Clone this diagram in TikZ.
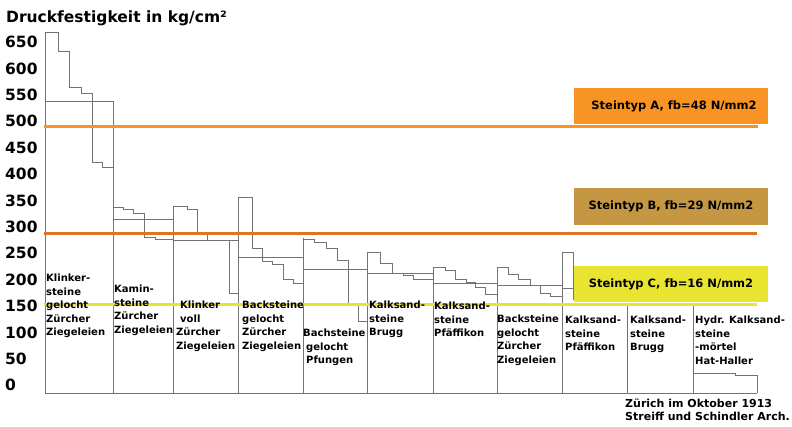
\documentclass[tikz,border=0pt]{standalone}
\usepackage{fontspec}
\setmainfont{DejaVu Sans}
\usetikzlibrary{positioning}

\definecolor{typA}{RGB}{247,148,36}
\definecolor{typB}{RGB}{222,116,38}
\definecolor{boxB}{RGB}{198,151,66}
\definecolor{typC}{RGB}{232,228,48}

\begin{document}
\begin{tikzpicture}[
  x=1pt, y=-1pt,
  font=\bfseries,
  grey/.style={draw=black!55, line width=0.8pt},
  ylab/.style={anchor=west, inner sep=0pt, font=\bfseries\fontsize{15.5}{16}\selectfont},
  collab/.style={anchor=north west, align=left, inner sep=0pt,
                 font=\bfseries\fontsize{10}{13.5}\selectfont},
  typeline/.style={line width=3pt},
  typebox/.style={minimum width=194pt, minimum height=36pt, inner sep=0pt,
                  font=\bfseries\fontsize{11.5}{12}\selectfont},
]
\useasboundingbox (0,0) rectangle (792,427);

% title and axis values
\node[anchor=base west, inner sep=0pt, font=\bfseries\fontsize{15.5}{16}\selectfont]
  (title) at (6,23) {Druckfestigkeit in kg/cm²};
\foreach \v [count=\i from 0] in {650,600,...,0}
  \node[ylab] (y\v) at (5,42+26.4*\i) {\v};

% measured values per brick sort: stairs and mean
\draw[grey] (45,32) -- (58,32) -- (58,51) -- (69,51) -- (69,87) -- (81,87) -- (81,93)
  -- (92,93) -- (92,162) -- (102,162) -- (102,167) -- (113,167);
\draw[grey] (45,32) -- (45,393);
\draw[grey] (45,101) -- (113,101) -- (113,393);

\draw[grey] (113,207) -- (123,207) -- (123,209) -- (133,209) -- (133,213) -- (144,213)
  -- (144,237) -- (155,237) -- (155,239) -- (173,239);
\draw[grey] (113,219) -- (173,219);
\draw[grey] (173,206) -- (173,393);

\draw[grey] (173,206) -- (187,206) -- (187,209) -- (197,209) -- (197,232) -- (207,232)
  -- (207,240) -- (229,240) -- (229,293) -- (238,293);
\draw[grey] (173,240) -- (238,240);
\draw[grey] (238,197) -- (238,393);

\draw[grey] (238,197) -- (252,197) -- (252,248) -- (262,248) -- (262,261) -- (272,261)
  -- (272,264) -- (283,264) -- (283,279) -- (293,279) -- (293,283) -- (303,283);
\draw[grey] (238,257) -- (303,257);
\draw[grey] (303,238) -- (303,393);

\draw[grey] (303,239) -- (314,239) -- (314,242) -- (326,242) -- (326,248) -- (337,248)
  -- (337,260) -- (348,260) -- (348,305) -- (358,305) -- (358,321) -- (367,321);
\draw[grey] (303,269) -- (367,269);
\draw[grey] (367,252) -- (367,393);

\draw[grey] (367,252) -- (380,252) -- (380,263) -- (392,263) -- (392,273) -- (403,273)
  -- (403,275) -- (413,275) -- (413,279) -- (433,279);
\draw[grey] (367,273) -- (433,273);
\draw[grey] (433,267) -- (433,393);

\draw[grey] (433,267) -- (445,267) -- (445,270) -- (455,270) -- (455,279) -- (466,279)
  -- (466,282) -- (475,282) -- (475,287) -- (485,287) -- (485,294) -- (497,294);
\draw[grey] (433,283) -- (497,283);
\draw[grey] (497,267) -- (497,393);

\draw[grey] (497,267) -- (508,267) -- (508,274) -- (518,274) -- (518,279) -- (530,279)
  -- (530,285) -- (540,285) -- (540,293) -- (550,293) -- (550,296) -- (562,296);
\draw[grey] (497,285) -- (562,285);
\draw[grey] (562,252) -- (562,393);

\draw[grey] (562,252) -- (573,252) -- (573,300);
\draw[grey] (562,288) -- (590,288);
\draw[grey] (627,305) -- (627,393);
\draw[grey] (693,305) -- (693,393);

\draw[grey] (693,373) -- (735,373) -- (735,375) -- (757,375) -- (757,393);
\draw[grey] (45,393) -- (757,393);

% stone types
\draw[typeline, typA] (44,127) -- (758,127);
\draw[typeline, typB] (44,234) -- (757,234);
\draw[typeline, typC] (44,305) -- (757,305);
\node[typebox, fill=typA] (typeA) at (671,106) {\hspace{6pt}Steintyp A, fb=48 N/mm2};
\node[typebox, fill=boxB, minimum height=37pt] (typeB) at (671,206.5) {Steintyp B, fb=29 N/mm2};
\node[typebox, fill=typC] (typeC) at (671,284) {Steintyp C, fb=16 N/mm2};

% brick sorts
\node[collab] (col1) at (46,274) {Klinker-\\steine\\gelocht\\Zürcher\\Ziegeleien};
\node[collab] (col2) at (114,285) {Kamin-\\steine\\Zürcher\\Ziegeleien};
\node[collab] (col3) at (176,301) {\hspace{4pt}Klinker\\\hspace{4pt}voll\\Zürcher\\Ziegeleien};
\node[collab] (col4) at (242,301) {Backsteine\\gelocht\\Zürcher\\Ziegeleien};
\node[collab] (col5) at (303,329) {Bachsteine\\\hspace{3pt}gelocht\\\hspace{3pt}Pfungen};
\node[collab] (col6) at (369,301) {Kalksand-\\steine\\Brugg};
\node[collab] (col7) at (434,302) {Kalksand-\\steine\\Pfäffikon};
\node[collab] (col8) at (497,315) {Backsteine\\gelocht\\Zürcher\\Ziegeleien};
\node[collab] (col9) at (565,316) {Kalksand-\\steine\\Pfäffikon};
\node[collab] (col10) at (630,316) {Kalksand-\\steine\\Brugg};
\node[collab] (col11) at (695,316) {Hydr. Kalksand-\\steine\\-mörtel\\Hat-Haller};

\node[anchor=north west, align=left, inner sep=0pt,
  font=\bfseries\fontsize{11}{13}\selectfont]
  (footer) at (625,399) {Zürich im Oktober 1913\\Streiff und Schindler Arch.};
\end{tikzpicture}
\end{document}
